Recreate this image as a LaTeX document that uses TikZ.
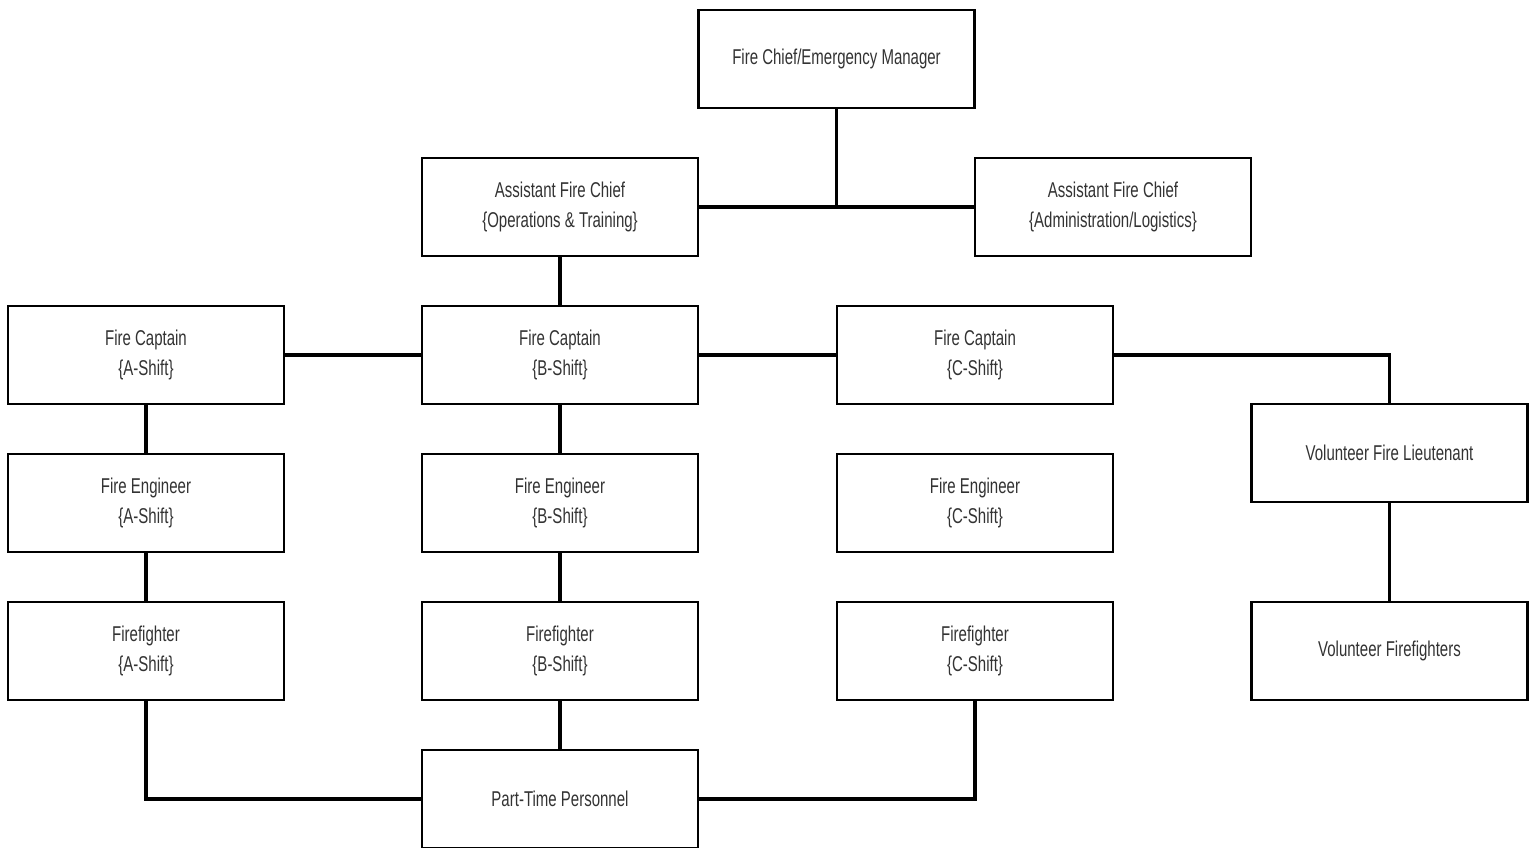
\documentclass[tikz,border=0pt]{standalone}
\usepackage{fontspec}
\setmainfont[FakeStretch=0.70]{Liberation Sans}
\usepackage{tikz}

\begin{document}
\begin{tikzpicture}[x=0.02cm,y=-0.02cm]
\tikzstyle{post}=[draw=black,line width=1.2pt,fill=white,inner sep=0pt,outer sep=0pt,
  minimum width=5.52cm,minimum height=1.96cm,align=center,text=black!80,
  font=\fontsize{12.2}{17}\selectfont]
\tikzstyle{link}=[draw=black,line width=2.1pt]
\useasboundingbox (0,0) rectangle (1535,848);
% top levels
\node [post] (chief) at (836.5,59) {Fire Chief/Emergency Manager};
\node [post] (asstops) at (560,207) {Assistant Fire Chief\\\{Operations \& Training\}};
\node [post] (asstadm) at (1113,207) {Assistant Fire Chief\\\{Administration/Logistics\}};
% shifts
\node [post] (capa) at (146,355) {Fire Captain\\\{A-Shift\}};
\node [post] (capb) at (560,355) {Fire Captain\\\{B-Shift\}};
\node [post] (capc) at (975,355) {Fire Captain\\\{C-Shift\}};
\node [post] (enga) at (146,503) {Fire Engineer\\\{A-Shift\}};
\node [post] (engb) at (560,503) {Fire Engineer\\\{B-Shift\}};
\node [post] (engc) at (975,503) {Fire Engineer\\\{C-Shift\}};
\node [post] (ffa) at (146,651) {Firefighter\\\{A-Shift\}};
\node [post] (ffb) at (560,651) {Firefighter\\\{B-Shift\}};
\node [post] (ffc) at (975,651) {Firefighter\\\{C-Shift\}};
% volunteers
\node [post] (lieut) at (1389.5,453) {Volunteer Fire Lieutenant};
\node [post] (volff) at (1389.5,651) {Volunteer Firefighters};
\node [post] (parttime) at (560,799) {Part-Time Personnel};
% connectors
\draw [link] (chief.south) -- (chief.south |- asstops.east);
\draw [link] (asstops.east) -- (asstadm.west);
\draw [link] (asstops.south) -- (capb.north);
\draw [link] (capa.east) -- (capb.west);
\draw [link] (capb.east) -- (capc.west);
\draw [link] (capc.east) -| (lieut.north);
\draw [link] (capa.south) -- (enga.north);
\draw [link] (enga.south) -- (ffa.north);
\draw [link] (capb.south) -- (engb.north);
\draw [link] (engb.south) -- (ffb.north);
\draw [link] (lieut.south) -- (volff.north);
\draw [link] (ffb.south) -- (parttime.north);
\draw [link] (ffa.south) |- (parttime.west);
\draw [link] (ffc.south) |- (parttime.east);
\end{tikzpicture}
\end{document}
